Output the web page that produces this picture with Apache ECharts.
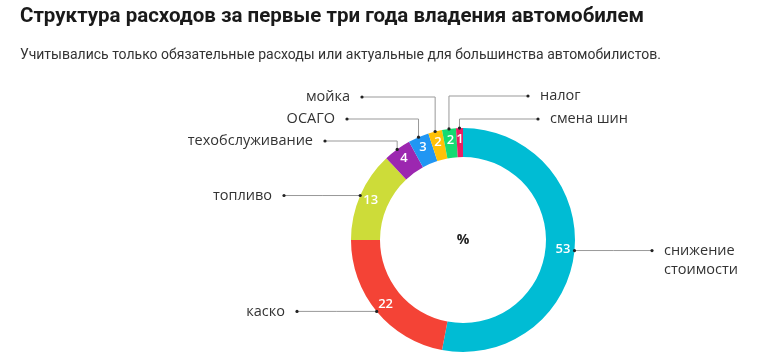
<!DOCTYPE html>
<html>
<head>
<meta charset="utf-8">
<script src="https://cdn.jsdelivr.net/npm/echarts@6/dist/echarts.min.js"></script>
<style>html,body{margin:0;padding:0;background:#fff;}#c{width:770px;height:363px;}</style>
</head>
<body>
<div id="c"></div>
<script>
const categories = ['снижение\nстоимости', 'каско', 'топливо', 'техобслуживание', 'ОСАГО', 'мойка', 'налог', 'смена шин'];
const values = [53, 22, 13, 4, 3, 2, 2, 1];
const colors = ['#00BCD4', '#F44336', '#CDDC39', '#9C27B0', '#2196F3', '#FFC107', '#14DB72', '#E91E63'];
const titleText = 'Структура расходов за первые три года владения автомобилем';
const subtitleText = 'Учитывались только обязательные расходы или актуальные для большинства автомобилистов.';
const centerText = '%';

// layout (not data)
const CX = 463, CY = 240, R0 = 83, R1 = 112;
const labelSpec = [
  { side: 'right', endX: 652 },
  { side: 'left', endX: 297 },
  { side: 'left', endX: 284 },
  { side: 'left', elbowY: 141, endX: 325 },
  { side: 'left', elbowY: 119, endX: 347 },
  { side: 'left', elbowY: 97, endX: 362 },
  { side: 'right', elbowY: 96, endX: 528 },
  { side: 'right', elbowY: 119, endX: 538 }
];
const total = values.reduce((a, b) => a + b, 0);
function edgePoint(i) {
  let cum = 0;
  for (let k = 0; k < i; k++) cum += values[k];
  const a = (cum + values[i] / 2) / total * Math.PI * 2;
  return [CX + R1 * Math.sin(a), CY - R1 * Math.cos(a)];
}
function linePoints(i) {
  const p = edgePoint(i), s = labelSpec[i];
  if (s.elbowY != null) return [p, [p[0], s.elbowY], [s.endX, s.elbowY]];
  return [p, [(p[0] + s.endX) / 2, p[1]], [s.endX, p[1]]];
}
const data = categories.map((n, i) => ({ name: n, value: values[i], itemStyle: { color: colors[i] } }));

const graphics = [];
values.forEach((v, i) => {
  const pts = linePoints(i);
  [pts[0], pts[2]].forEach(p => graphics.push({
    type: 'circle', shape: { cx: p[0], cy: p[1], r: 1.6 }, style: { fill: '#222' }, silent: true, z: 100
  }));
});
graphics.push({
  type: 'text', x: CX, y: CY, silent: true, z: 100,
  style: { text: centerText, align: 'center', verticalAlign: 'middle', fontFamily: 'Open Sans', fontWeight: 'bold', fontSize: 14, fill: '#222' }
});

const chart = echarts.init(document.getElementById('c'));
chart.setOption({
  animation: false,
  title: [
    { text: titleText, left: 20, top: 6, padding: 0, textStyle: { fontFamily: 'Roboto', fontWeight: 'bold', fontSize: 20.5, color: '#1a1a1a' } },
    { text: subtitleText, left: 20, top: 48, padding: 0, textStyle: { fontFamily: 'Roboto', fontWeight: 'normal', fontSize: 14, color: '#333' } }
  ],
  graphic: graphics,
  series: [
    {
      type: 'pie', center: [CX, CY], radius: [R0, R1], startAngle: 90, clockwise: true,
      silent: true, avoidLabelOverlap: false,
      label: { show: true, position: 'inside', formatter: '{c}', color: '#fff', fontFamily: 'Open Sans', fontWeight: 600, fontSize: 13 },
      labelLine: { show: false },
      data: data
    },
    {
      type: 'pie', center: [CX, CY], radius: [R0, R1], startAngle: 90, clockwise: true,
      silent: true, avoidLabelOverlap: false,
      itemStyle: { color: 'rgba(0,0,0,0)' },
      label: { show: true, position: 'outside', formatter: '{b}', color: '#333', fontFamily: 'Open Sans', fontSize: 14.5, lineHeight: 19 },
      labelLine: { show: true, length: 10, length2: 10, lineStyle: { color: '#999', width: 1 } },
      labelLayout: function (params) {
        const i = params.dataIndex;
        const pts = linePoints(i);
        const s = labelSpec[i];
        const end = pts[2];
        const multi = categories[i].indexOf('\n') >= 0;
        return {
          x: s.side === 'left' ? end[0] - 12 : end[0] + 12,
          y: multi ? end[1] + 10 : end[1],
          align: s.side === 'left' ? 'right' : 'left',
          verticalAlign: 'middle',
          labelLinePoints: pts
        };
      },
      data: data.map(d => ({ name: d.name, value: d.value }))
    }
  ]
});
</script>
</body>
</html>
